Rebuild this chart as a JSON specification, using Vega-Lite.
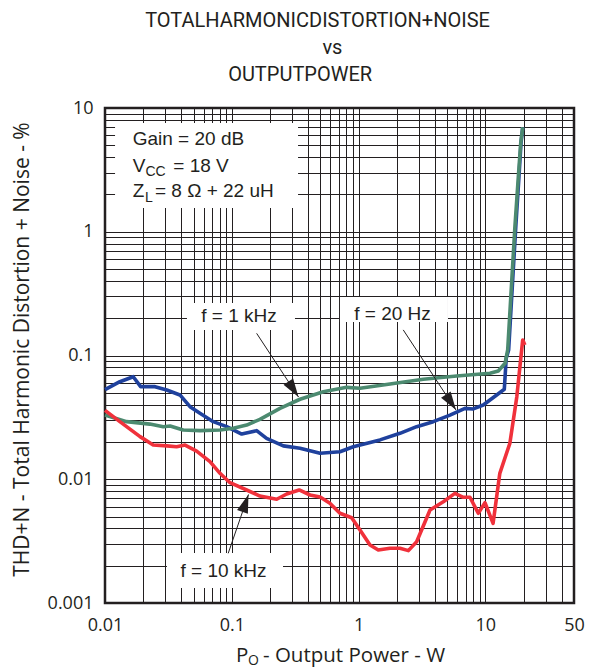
{
  "$schema": "https://vega.github.io/schema/vega-lite/v6.json",
  "width": 469,
  "height": 495,
  "autosize": {"type": "none"},
  "padding": {"left": 105, "top": 108, "right": 25, "bottom": 66},
  "background": "white",
  "config": {
    "view": {"stroke": "#231f20", "strokeWidth": 2.5},
    "font": "Liberation Sans"
  },
  "title": {
    "text": ["TOTALHARMONICDISTORTION+NOISE", "\u200b\u00a0\u00a0\u00a0\u00a0\u00a0\u00a0vs", "OUTPUTPOWER\u00a0\u00a0\u00a0\u00a0\u00a0\u00a0\u00a0\u200b"],
    "font": "Roboto",
    "fontSize": 20,
    "fontWeight": "normal",
    "lineHeight": 27,
    "color": "#231f20",
    "anchor": "middle",
    "frame": "group",
    "baseline": "bottom",
    "dx": -22,
    "offset": -6
  },
  "datasets": {
    "f20Hz": [
      {"P": 0.01, "thd": 0.053}, {"P": 0.0131, "thd": 0.0614}, {"P": 0.0167, "thd": 0.0674},
      {"P": 0.0191, "thd": 0.056}, {"P": 0.0248, "thd": 0.056}, {"P": 0.0307, "thd": 0.0526},
      {"P": 0.039, "thd": 0.048}, {"P": 0.0468, "thd": 0.0386}, {"P": 0.0561, "thd": 0.0341},
      {"P": 0.0714, "thd": 0.0292}, {"P": 0.0912, "thd": 0.0266}, {"P": 0.1197, "thd": 0.0232},
      {"P": 0.157, "thd": 0.0247}, {"P": 0.188, "thd": 0.0214}, {"P": 0.255, "thd": 0.0186},
      {"P": 0.345, "thd": 0.0178}, {"P": 0.497, "thd": 0.0162}, {"P": 0.713, "thd": 0.0167},
      {"P": 0.908, "thd": 0.0183}, {"P": 1.475, "thd": 0.0208}, {"P": 2.12, "thd": 0.0235},
      {"P": 2.87, "thd": 0.0266}, {"P": 3.88, "thd": 0.0292}, {"P": 5.26, "thd": 0.033},
      {"P": 6.9, "thd": 0.0374}, {"P": 8.03, "thd": 0.037}, {"P": 9.62, "thd": 0.0398},
      {"P": 12.28, "thd": 0.048}, {"P": 14.1, "thd": 0.0533}, {"P": 14.6, "thd": 0.095},
      {"P": 15.26, "thd": 0.111}, {"P": 16.36, "thd": 0.383}, {"P": 17.37, "thd": 1.1},
      {"P": 18.4, "thd": 2.79}, {"P": 19.09, "thd": 5.19}, {"P": 19.7, "thd": 6.98}
    ],
    "f1kHz": [
      {"P": 0.01, "thd": 0.033}, {"P": 0.0148, "thd": 0.0292}, {"P": 0.0226, "thd": 0.0279},
      {"P": 0.0288, "thd": 0.0266}, {"P": 0.0326, "thd": 0.0269}, {"P": 0.0414, "thd": 0.025},
      {"P": 0.0561, "thd": 0.0247}, {"P": 0.0807, "thd": 0.025}, {"P": 0.1028, "thd": 0.0258},
      {"P": 0.131, "thd": 0.0274}, {"P": 0.1667, "thd": 0.0305}, {"P": 0.24, "thd": 0.0374},
      {"P": 0.345, "thd": 0.0443}, {"P": 0.527, "thd": 0.051}, {"P": 0.805, "thd": 0.0553},
      {"P": 1.026, "thd": 0.0543}, {"P": 1.77, "thd": 0.0589}, {"P": 3.24, "thd": 0.0642},
      {"P": 5.94, "thd": 0.0683}, {"P": 10.87, "thd": 0.0718}, {"P": 12.64, "thd": 0.075},
      {"P": 14.3, "thd": 0.0865}, {"P": 15.0, "thd": 0.111}, {"P": 16.1, "thd": 0.383},
      {"P": 17.1, "thd": 1.1}, {"P": 18.2, "thd": 2.79}, {"P": 19.0, "thd": 5.19},
      {"P": 19.7, "thd": 6.98}
    ],
    "f10kHz": [
      {"P": 0.01, "thd": 0.036}, {"P": 0.0131, "thd": 0.0292}, {"P": 0.0189, "thd": 0.0221},
      {"P": 0.024, "thd": 0.0189}, {"P": 0.0307, "thd": 0.0186}, {"P": 0.0367, "thd": 0.0183},
      {"P": 0.0428, "thd": 0.0189}, {"P": 0.0528, "thd": 0.0169}, {"P": 0.0673, "thd": 0.01387},
      {"P": 0.0807, "thd": 0.01117}, {"P": 0.0968, "thd": 0.00938}, {"P": 0.131, "thd": 0.00819},
      {"P": 0.1667, "thd": 0.00732}, {"P": 0.226, "thd": 0.00689}, {"P": 0.271, "thd": 0.0076},
      {"P": 0.34, "thd": 0.00819}, {"P": 0.414, "thd": 0.00746}, {"P": 0.497, "thd": 0.00719},
      {"P": 0.594, "thd": 0.00639}, {"P": 0.713, "thd": 0.00531}, {"P": 0.882, "thd": 0.00489},
      {"P": 1.026, "thd": 0.00389}, {"P": 1.23, "thd": 0.00294}, {"P": 1.43, "thd": 0.00268},
      {"P": 1.77, "thd": 0.00277}, {"P": 2.12, "thd": 0.00277}, {"P": 2.47, "thd": 0.00265},
      {"P": 2.87, "thd": 0.00313}, {"P": 3.66, "thd": 0.00565}, {"P": 4.66, "thd": 0.00659},
      {"P": 5.75, "thd": 0.00769}, {"P": 6.7, "thd": 0.00715}, {"P": 7.56, "thd": 0.00715},
      {"P": 8.79, "thd": 0.00531}, {"P": 9.93, "thd": 0.00647}, {"P": 11.5, "thd": 0.0044},
      {"P": 13.0, "thd": 0.01117}, {"P": 15.6, "thd": 0.0195}, {"P": 17.7, "thd": 0.0465},
      {"P": 19.7, "thd": 0.1334}, {"P": 20.5, "thd": 0.1216}
    ],
    "boxes": [
      {"P": 0.012, "P2": 0.333, "thd": 7.57, "thd2": 1.556},
      {"P": 0.0443, "P2": 0.315, "thd": 0.265, "thd2": 0.161},
      {"P": 0.713, "P2": 5.07, "thd": 0.297, "thd2": 0.1866},
      {"P": 0.0308, "P2": 0.2535, "thd": 0.00253, "thd2": 0.00132}
    ],
    "leaders": [
      {"P": 0.157, "thd": 0.151, "P2": 0.336, "thd2": 0.0462},
      {"P": 2.25, "thd": 0.161, "P2": 5.86, "thd2": 0.0363},
      {"P": 0.0937, "thd": 0.00252, "P2": 0.1354, "thd2": 0.00753}
    ],
    "conditions": [
      {"P": 0.01654, "thd": 5.023, "t": "Gain = 20 dB"},
      {"P": 0.01654, "thd": 3.058, "t": "V"},
      {"P": 0.03456, "thd": 3.058, "t": "= 18 V"},
      {"P": 0.01654, "thd": 1.92, "t": "Z"},
      {"P": 0.02478, "thd": 1.92, "t": "= 8 Ω + 22 uH"}
    ],
    "subscripts": [
      {"P": 0.02087, "thd": 2.822, "t": "CC"},
      {"P": 0.02067, "thd": 1.749, "t": "L"}
    ],
    "curveLabels": [
      {"P": 0.114, "thd": 0.1875, "t": "f = 1 kHz"},
      {"P": 1.851, "thd": 0.1936, "t": "f = 20 Hz"},
      {"P": 0.086, "thd": 0.001613, "t": "f = 10 kHz"}
    ],
    "xTitle": [
      {"P": 0.1079, "thd": 0.0003336, "t": "P"},
      {"P": 0.1762, "thd": 0.0003336, "t": "- Output Power - W"}
    ],
    "xTitleSub": [
      {"P": 0.1342, "thd": 0.000315, "t": "O"}
    ]
  },
  "encoding": {
    "x": {
      "field": "P",
      "type": "quantitative",
      "scale": {"type": "log", "domain": [0.01, 50], "nice": false},
      "axis": {
        "values": [0.01, 0.02, 0.03, 0.04, 0.05, 0.06, 0.07, 0.08, 0.09, 0.1, 0.2, 0.3, 0.4, 0.5, 0.6, 0.7, 0.8, 0.9, 1, 2, 3, 4, 5, 6, 7, 8, 9, 10, 20, 30, 40, 50],
        "format": "~g",
        "labelExpr": "indexof([0.01, 0.1, 1, 10, 50], datum.value) >= 0 ? datum.label : ''",
        "labelOverlap": false,
        "labelFlush": false,
        "labelFont": "Open Sans",
        "labelFontSize": 18,
        "labelColor": "#231f20",
        "labelPadding": 13,
        "ticks": false,
        "domain": false,
        "grid": true,
        "gridColor": "#231f20",
        "gridWidth": 1,
        "title": null
      }
    },
    "y": {
      "field": "thd",
      "type": "quantitative",
      "scale": {"type": "log", "domain": [0.001, 10], "nice": false},
      "axis": {
        "values": [0.001, 0.002, 0.003, 0.004, 0.005, 0.006, 0.007, 0.008, 0.009, 0.01, 0.02, 0.03, 0.04, 0.05, 0.06, 0.07, 0.08, 0.09, 0.1, 0.2, 0.3, 0.4, 0.5, 0.6, 0.7, 0.8, 0.9, 1, 2, 3, 4, 5, 6, 7, 8, 9, 10],
        "format": "~g",
        "labelExpr": "indexof([0.001, 0.01, 0.1, 1, 10], datum.value) >= 0 ? datum.label : ''",
        "labelOverlap": false,
        "labelFlush": false,
        "labelFont": "Open Sans",
        "labelFontSize": 18,
        "labelColor": "#231f20",
        "labelPadding": 12,
        "ticks": false,
        "domain": false,
        "grid": true,
        "gridColor": "#231f20",
        "gridWidth": 1,
        "title": "THD+N - Total Harmonic Distortion + Noise - %",
        "titleFont": "Open Sans",
        "titleFontSize": 21,
        "titleFontWeight": "normal",
        "titleColor": "#231f20",
        "titlePadding": 15,
        "titleY": 241
      }
    }
  },
  "layer": [
    {
      "data": {"name": "boxes"},
      "mark": {"type": "rect", "fill": "white", "strokeWidth": 0},
      "encoding": {"x2": {"field": "P2"}, "y2": {"field": "thd2"}}
    },
    {
      "data": {"name": "f20Hz"},
      "mark": {"type": "line", "color": "#1f419d", "strokeWidth": 3.6, "strokeJoin": "round"},
      "encoding": {}
    },
    {
      "data": {"name": "f1kHz"},
      "mark": {"type": "line", "color": "#4c8a70", "strokeWidth": 3.6, "strokeJoin": "round"},
      "encoding": {}
    },
    {
      "data": {"name": "f10kHz"},
      "mark": {"type": "line", "color": "#f0313b", "strokeWidth": 3.6, "strokeJoin": "round"},
      "encoding": {}
    },
    {
      "data": {"name": "leaders"},
      "mark": {"type": "rule", "color": "#231f20", "strokeWidth": 1},
      "encoding": {"x2": {"field": "P2"}, "y2": {"field": "thd2"}}
    },
    {
      "data": {"values": [{"P": 0.3062, "thd": 0.0533}]},
      "mark": {"type": "point", "shape": "M0,-1L0.62,1L-0.62,1Z", "filled": true, "opacity": 1, "color": "#231f20", "size": 340, "angle": 146.7}
    },
    {
      "data": {"values": [{"P": 5.35, "thd": 0.0418}]},
      "mark": {"type": "point", "shape": "M0,-1L0.62,1L-0.62,1Z", "filled": true, "opacity": 1, "color": "#231f20", "size": 340, "angle": 146.6}
    },
    {
      "data": {"values": [{"P": 0.1282, "thd": 0.0064}]},
      "mark": {"type": "point", "shape": "M0,-1L0.62,1L-0.62,1Z", "filled": true, "opacity": 1, "color": "#231f20", "size": 340, "angle": 19}
    },
    {
      "data": {"name": "conditions"},
      "mark": {"type": "text", "align": "left", "baseline": "alphabetic", "font": "Liberation Sans", "fontSize": 19, "color": "#231f20"},
      "encoding": {"text": {"field": "t"}}
    },
    {
      "data": {"name": "subscripts"},
      "mark": {"type": "text", "align": "left", "baseline": "alphabetic", "font": "Liberation Sans", "fontSize": 14, "color": "#231f20"},
      "encoding": {"text": {"field": "t"}}
    },
    {
      "data": {"name": "curveLabels"},
      "mark": {"type": "text", "align": "center", "baseline": "alphabetic", "font": "Liberation Sans", "fontSize": 19, "color": "#231f20"},
      "encoding": {"text": {"field": "t"}}
    },
    {
      "data": {"name": "xTitle"},
      "mark": {"type": "text", "align": "left", "baseline": "alphabetic", "font": "Open Sans", "fontSize": 20.5, "color": "#231f20"},
      "encoding": {"text": {"field": "t"}}
    },
    {
      "data": {"name": "xTitleSub"},
      "mark": {"type": "text", "align": "left", "baseline": "alphabetic", "font": "Open Sans", "fontSize": 14, "color": "#231f20"},
      "encoding": {"text": {"field": "t"}}
    }
  ]
}
